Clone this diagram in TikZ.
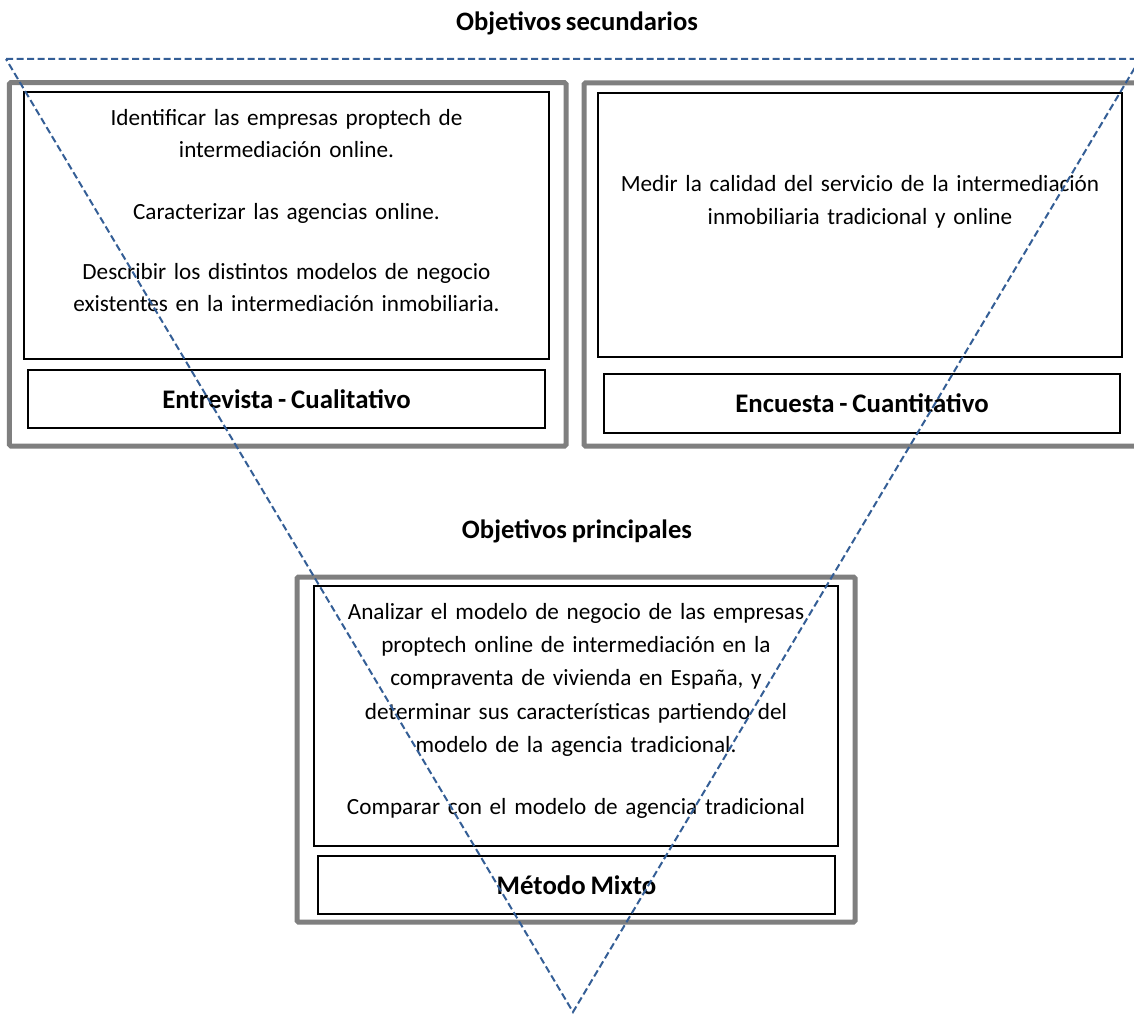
\documentclass[tikz,border=0pt]{standalone}
\usepackage{fontspec}
\setmainfont{Carlito}[WordSpace=0.8]
\definecolor{boxgray}{RGB}{127,127,127}
\definecolor{guideblue}{RGB}{52,94,150}
\begin{document}
\begin{tikzpicture}[x=1pt,y=-1pt,
  outerbox/.style={draw=boxgray, line width=5pt, rounded corners=1.5pt, anchor=north west, inner sep=0, outer sep=0},
  innerbox/.style={draw=black, line width=1.6pt, fill=white, anchor=north west, inner sep=0, outer sep=0},
  labelbox/.style={innerbox, font=\bfseries\fontsize{26.8}{32}\selectfont},
  bodytext/.style={align=center, anchor=north, inner sep=0, text width=520pt},
  heading/.style={anchor=base, inner sep=0, font=\bfseries\fontsize{26.6}{32}\selectfont},
  guide/.style={draw=guideblue, line width=2pt, dash pattern=on 7pt off 3.5pt}]
\useasboundingbox (0,0) rectangle (1134,1014);
\fill[white] (0,0) rectangle (1134,1014);
\clip (0,0) rectangle (1134,1014);

% headings
\node[heading] (hsec) at (577,31) {Objetivos secundarios};
\node[heading] (hpri) at (577,538) {Objetivos principales};

% left block: interview
\node[outerbox, minimum width=556.7pt, minimum height=363.3pt] (louter) at (9.3,82.7) {};
\node[innerbox, minimum width=525pt, minimum height=267pt] (linner) at (24,92) {};
\node[labelbox, minimum width=517pt, minimum height=58pt] (llabel) at (28,370) {Entrevista - Cualitativo};
\node[bodytext, font=\fontsize{23.2}{32}\selectfont] (ltext) at (286.5,109) {Identificar las empresas proptech de\\
intermediación online.\\[30pt]
Caracterizar las agencias online.\\[28pt]
Describir los distintos modelos de negocio\\
existentes en la intermediación inmobiliaria.};

% right block: survey
\node[outerbox, minimum width=561pt, minimum height=363pt] (router) at (584,83) {};
\node[innerbox, minimum width=524pt, minimum height=264pt] (rinner) at (598,93) {};
\node[labelbox, minimum width=516pt, minimum height=59pt] (rlabel) at (604,374) {Encuesta - Cuantitativo};
\node[bodytext, font=\fontsize{23.2}{33}\selectfont] (rtext) at (860,175) {Medir la calidad del servicio de la intermediación\\
inmobiliaria tradicional y online};

% bottom block: mixed method
\node[outerbox, minimum width=558pt, minimum height=345pt] (bouter) at (297,577) {};
\node[innerbox, minimum width=524pt, minimum height=260pt] (binner) at (314,586) {};
\node[labelbox, minimum width=517pt, minimum height=58pt] (blabel) at (318,856) {Método Mixto};
\node[bodytext, font=\fontsize{23.2}{33.25}\selectfont] (btext) at (576,603) {Analizar el modelo de negocio de las empresas\\
proptech online de intermediación en la\\
compraventa de vivienda en España, y\\
determinar sus características partiendo del\\
modelo de la agencia tradicional.\\[28.75pt]
Comparar con el modelo de agencia tradicional};

% inverted dashed triangle
\coordinate (tl) at (6,59);
\coordinate (tr) at (1140,59);
\coordinate (apex) at (573,1012);
\draw[guide] (tl) -- (tr) -- (apex) -- cycle;
\end{tikzpicture}
\end{document}
